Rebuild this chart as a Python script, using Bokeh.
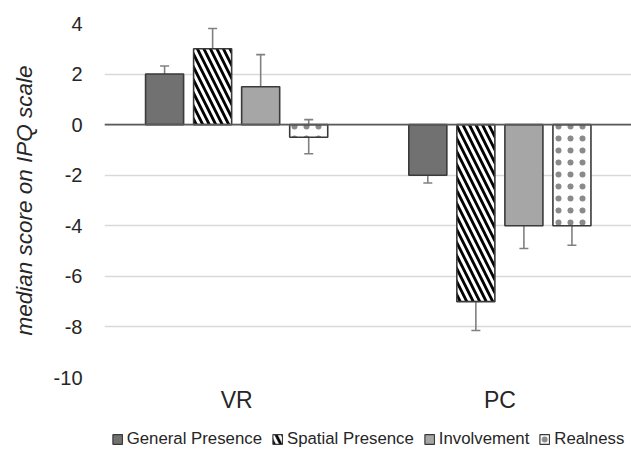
from bokeh.plotting import figure
from bokeh.layouts import column
from bokeh.models import ColumnDataSource, FixedTicker, Span, Whisker, Legend, LegendItem, TeeHead
from bokeh.embed import file_html
from bokeh.resources import INLINE

categories = ["VR", "PC"]
series = ["General Presence", "Spatial Presence", "Involvement", "Realness"]
medians = {
    "General Presence": [2.0, -2.0],
    "Spatial Presence": [3.0, -7.0],
    "Involvement": [1.5, -4.0],
    "Realness": [-0.5, -4.0],
}
err_low = {
    "General Presence": [1.70, -2.31],
    "Spatial Presence": [2.20, -8.14],
    "Involvement": [0.20, -4.90],
    "Realness": [-1.15, -4.77],
}
err_high = {
    "General Presence": [2.32, -1.68],
    "Spatial Presence": [3.80, -5.80],
    "Involvement": [2.77, -3.10],
    "Realness": [0.20, -3.23],
}
y_ticks = [4, 2, 0, -2, -4, -6, -8, -10]
y_tick_labels = ["4", "2", "0", "-2", "-4", "-6", "-8", "-10"]

styles = {
    "General Presence": dict(fill_color="#717171"),
    "Spatial Presence": dict(fill_color="white", hatch_pattern="\\", hatch_color="black",
                             hatch_scale=13, hatch_weight=2.8),
    "Involvement": dict(fill_color="#a6a6a6"),
    "Realness": dict(fill_color="white", hatch_pattern=".", hatch_color="#8a8a8a",
                     hatch_scale=12, hatch_weight=1.0),
}

FONT = "Liberation Sans"

p = figure(frame_width=527, frame_height=354, output_backend="svg", toolbar_location=None,
           x_range=(-0.502, 1.5), y_range=(-10, 4),
           min_border_left=104, min_border_right=0, min_border_top=23, min_border_bottom=37)
p.outline_line_color = None
p.background_fill_color = "white"
p.border_fill_color = "white"

step = 0.1825
width = 0.1445
offsets = [-1.5 * step, -0.5 * step, 0.5 * step, 1.5 * step]

for s, off in zip(series, offsets):
    xs = [i + off for i in range(len(categories))]
    src = ColumnDataSource(dict(x=xs, top=medians[s], lo=err_low[s], hi=err_high[s]))
    p.vbar(x="x", top="top", bottom=0, width=width, source=src,
           line_color="#3a3a3a", line_width=1.6, **styles[s])
    w = Whisker(base="x", lower="lo", upper="hi", source=src, dimension="height",
                line_color="#808080", line_width=1.6,
                upper_head=TeeHead(size=9, line_color="#808080", line_width=1.6),
                lower_head=TeeHead(size=9, line_color="#808080", line_width=1.6))
    p.add_layout(w)

p.add_layout(Span(location=0, dimension="width", line_color="#5a5a5a", line_width=1.6))

# axes
p.xaxis.ticker = FixedTicker(ticks=list(range(len(categories))))
p.xaxis.major_label_overrides = {i: c for i, c in enumerate(categories)}
p.xaxis.axis_line_color = None
p.xaxis.major_tick_line_color = None
p.xaxis.major_tick_out = 0
p.xaxis.minor_tick_line_color = None
p.xaxis.major_label_text_font = FONT
p.xaxis.major_label_text_font_size = "23px"
p.xaxis.major_label_text_color = "#262626"
p.xaxis.major_label_standoff = 9

p.yaxis.ticker = FixedTicker(ticks=y_ticks)
p.yaxis.major_label_overrides = {t: l for t, l in zip(y_ticks, y_tick_labels)}
p.yaxis.axis_line_color = None
p.yaxis.major_tick_line_color = None
p.yaxis.major_tick_out = 0
p.yaxis.minor_tick_line_color = None
p.yaxis.major_label_text_font = FONT
p.yaxis.major_label_text_font_size = "20px"
p.yaxis.major_label_text_color = "#262626"
p.yaxis.major_label_standoff = 22
p.yaxis.axis_label = "median score on IPQ scale"
p.yaxis.axis_label_text_font = FONT
p.yaxis.axis_label_text_font_size = "22.5px"
p.yaxis.axis_label_text_font_style = "italic"
p.yaxis.axis_label_text_color = "#262626"
p.yaxis.axis_label_standoff = 14

p.xgrid.grid_line_color = None
p.ygrid.grid_line_color = "#d9d9d9"
p.ygrid.grid_line_width = 1.6

# legend strip (separate figure holding the legend swatches only)
q = figure(width=631, height=35, output_backend="svg", toolbar_location=None,
           x_range=(10, 11), y_range=(10, 11), min_border=0,
           x_axis_location=None, y_axis_location=None)
q.grid.grid_line_color = None
q.outline_line_color = None
items = []
for s in series:
    r = q.vbar(x=[0], top=[1], bottom=0, width=0.5,
               line_color="#3a3a3a", line_width=1.2, **styles[s])
    items.append(LegendItem(label=s, renderers=[r]))

legend = Legend(items=items, orientation="horizontal", location="bottom_center",
                label_text_font=FONT, label_text_font_size="16.8px", label_text_color="#262626",
                glyph_width=12, glyph_height=12, label_height=14, label_standoff=4, spacing=9,
                padding=0, margin=1, border_line_color=None, background_fill_alpha=0)
q.add_layout(legend, "center")

layout = column(p, q, spacing=0)
open("out.html", "w").write(file_html(layout, INLINE))
